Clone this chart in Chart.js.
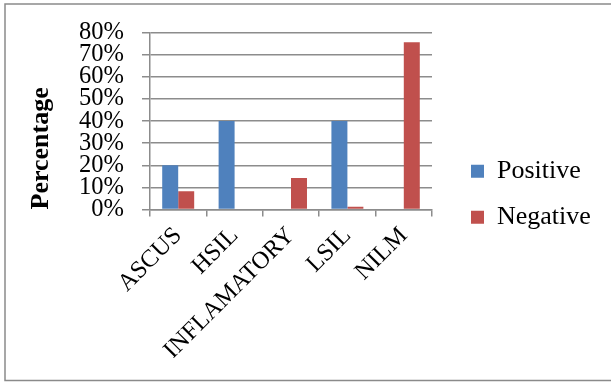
<!DOCTYPE html>
<html>
<head>
<meta charset="utf-8">
<script src="https://cdn.jsdelivr.net/npm/chart.js@4.4.1/dist/chart.umd.min.js"></script>
<style>
  html, body { margin: 0; padding: 0; background: #fff; }
  #wrap { width: 611px; height: 382px; position: relative; }
</style>
</head>
<body>
<div id="wrap"><canvas id="chart"></canvas></div>
<script>
// Data
const categories = ['ASCUS', 'HSIL', 'INFLAMATORY', 'LSIL', 'NILM'];
const positiveValues = [20, 40, 0, 40, 0];
const negativeValues = [8.3, 0, 14.2, 1.2, 75.7];
const yTicks = [0, 10, 20, 30, 40, 50, 60, 70, 80];

const FONT = '"Liberation Serif", "Times New Roman", serif';
const GRID = '#8c8c8c';
const PAD_BOTTOM = 24;

// outer frame like the pasted Word/Excel picture
const framePlugin = {
    id: 'frame',
    beforeDraw: function(chart) {
        const ctx = chart.ctx;
        ctx.save();
        ctx.fillStyle = '#fff';
        ctx.fillRect(0, 0, chart.width, chart.height);
        ctx.strokeStyle = '#8a8a8a';
        ctx.lineWidth = 1.5;
        ctx.strokeRect(5, 4, chart.width + 20, 376.5);
        ctx.restore();
    }
};

// keep the legend at a fixed width and move its items away from the plot
const legendPlace = {
    id: 'legendPlace',
    beforeLayout: function(chart) {
        const lg = chart.legend;
        if (lg && !lg._fixed) {
            const origFit = lg.fit;
            lg.fit = function() {
                origFit.call(this);
                this.width = 160;
            };
            lg._fixed = true;
        }
    },
    afterLayout: function(chart) {
        const lg = chart.legend;
        if (lg) {
            lg.left = 451;
            lg.right = 611;
        }
    }
};

document.addEventListener('DOMContentLoaded', function() {
    new Chart(document.getElementById('chart'), {
        type: 'bar',
        data: {
            labels: categories,
            datasets: [{
                label: 'Positive',
                data: positiveValues,
                backgroundColor: '#4F81BD',
                borderWidth: 0
            }, {
                label: 'Negative',
                data: negativeValues,
                backgroundColor: '#C0504D',
                borderWidth: 0
            }]
        },
        options: {
            responsive: true,
            maintainAspectRatio: false,
            animation: false,
            events: [],
            layout: {
                padding: { left: 26, top: 30.5, right: 19, bottom: PAD_BOTTOM }
            },
            datasets: {
                bar: { barPercentage: 1, categoryPercentage: 0.567 }
            },
            plugins: {
                tooltip: { enabled: false },
                legend: {
                    position: 'right',
                    align: 'center',
                    labels: {
                        boxWidth: 13,
                        boxHeight: 13,
                        padding: 20,
                        color: '#000',
                        font: { family: FONT, size: 26 }
                    }
                }
            },
            scales: {
                x: {
                    grid: {
                        offset: true,
                        drawOnChartArea: false,
                        drawTicks: true,
                        tickLength: 7,
                        color: GRID,
                        lineWidth: 1.5
                    },
                    border: { color: GRID, width: 1.5 },
                    ticks: {
                        autoSkip: false,
                        minRotation: 45,
                        maxRotation: 45,
                        padding: 5,
                        color: '#000',
                        font: { family: FONT, size: 24.5 }
                    },
                    afterFit: function(scale) { scale.height = 382 - 209.5 - PAD_BOTTOM; }
                },
                y: {
                    min: 0,
                    max: 80,
                    afterBuildTicks: function(scale) {
                        scale.ticks = yTicks.map(function(v) { return { value: v }; });
                    },
                    grid: {
                        color: GRID,
                        lineWidth: 1.5,
                        drawTicks: true,
                        tickLength: 8
                    },
                    border: { color: GRID, width: 1.5 },
                    ticks: {
                        autoSkip: false,
                        padding: 18,
                        color: '#000',
                        font: { family: FONT, size: 24.5 },
                        callback: function(v) { return v + '%'; }
                    },
                    title: {
                        display: true,
                        text: 'Percentage',
                        align: 'start',
                        color: '#000',
                        padding: 0,
                        font: { family: FONT, size: 26, weight: 'bold' }
                    },
                    afterFit: function(scale) { scale.width = 150 - 26; }
                }
            }
        },
        plugins: [framePlugin, legendPlace]
    });
});
</script>
</body>
</html>
